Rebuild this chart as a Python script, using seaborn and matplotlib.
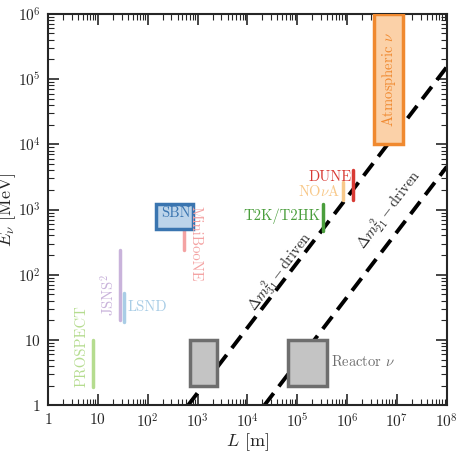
import numpy as np
import pandas as pd
import seaborn as sns
import matplotlib
matplotlib.use("Agg")
import matplotlib.pyplot as plt
from matplotlib.patches import Rectangle
from matplotlib.ticker import FuncFormatter, LogLocator

sns.set_style("ticks")
plt.rcParams['font.family'] = 'serif'
plt.rcParams['font.serif'] = ['cmr10', 'DejaVu Serif']
plt.rcParams['mathtext.fontset'] = 'cm'
plt.rcParams['axes.formatter.use_mathtext'] = True

box_names = ["SBN", "Accel", "Reactor", "Atmospheric"]
box_L = [(150, 800), (700, 2450), (6.4e4, 3.9e5), (3.5e6, 1.35e7)]
box_E = [(500, 1200), (2.0, 10), (2.0, 10), (1e4, 1e6)]
box_edge = ["#3a75b0", "#6e6e6e", "#6e6e6e", "#f0892f"]
box_face = ["#bcd4ea", "#c4c4c4", "#c4c4c4", "#fbd1a8"]

exp_names = ["MiniBooNE", "JSNS$^2$", "LSND", "PROSPECT", "T2K/T2HK", "NO$\\nu$A", "DUNE"]
exp_L = [540, 28, 33, 8, 3.3e5, 8.1e5, 1.3e6]
exp_Emin = [240, 20, 19, 1.9, 470, 1400, 1400]
exp_Emax = [1050, 240, 52, 10, 1200, 2600, 4000]
exp_col = ["#f4a3a3", "#c9b3db", "#a9cde6", "#b5dc8f", "#4a9e3c", "#f8c98a", "#d83a34"]

osc_LE = [650, 2.2e4]
L_grid = [1, 1e8]

fig = plt.figure(figsize=(4.65, 4.62), dpi=100)
ax = fig.add_axes([0.103, 0.123, 0.858, 0.847])

for c in osc_LE:
    df = pd.DataFrame({"L": L_grid, "E": [l / c for l in L_grid]})
    sns.lineplot(data=df, x="L", y="E", ax=ax, color="black", lw=2.8,
                 linestyle=(0, (4, 2.2)), estimator=None, sort=False)

for (l0, l1), (e0, e1), ec, fc in zip(box_L, box_E, box_edge, box_face):
    ax.add_patch(Rectangle((l0, e0), l1 - l0, e1 - e0, facecolor=fc,
                           edgecolor=ec, lw=2.5, zorder=3))

for L, e0, e1, c in zip(exp_L, exp_Emin, exp_Emax, exp_col):
    df = pd.DataFrame({"L": [L, L], "E": [e0, e1]})
    sns.lineplot(data=df, x="L", y="E", ax=ax, color=c, lw=2.5,
                 estimator=None, sort=False)

ax.set_xscale("log"); ax.set_yscale("log")
ax.set_xlim(1, 1e8); ax.set_ylim(1, 1e6)

fs = 10.5
ax.text(370, 880, "SBN", color="#3a75b0", fontsize=fs, ha="center", va="center", zorder=4)
ax.text(660, 1150, "MiniBooNE", color="#f4a3a3", fontsize=fs, rotation=-90, ha="left", va="top")
ax.text(24, 23, "JSNS$^2$", color="#c9b3db", fontsize=fs, rotation=90, ha="right", va="bottom")
ax.text(40, 32, "LSND", color="#a9cde6", fontsize=fs, ha="left", va="center")
ax.text(6.5, 1.9, "PROSPECT", color="#b5dc8f", fontsize=fs, rotation=90, ha="right", va="bottom")
ax.text(2.9e5, 800, "T2K/T2HK", color="#4a9e3c", fontsize=fs, ha="right", va="center")
ax.text(7.3e5, 1900, "NO$\\nu$A", color="#f8c98a", fontsize=fs, ha="right", va="center")
ax.text(1.25e6, 3100, "DUNE", color="#d83a34", fontsize=fs, ha="right", va="center")
ax.text(4.8e5, 4.6, "Reactor $\\nu$", color="#6e6e6e", fontsize=fs, ha="left", va="center")
ax.text(6.9e6, 1e5, "Atmospheric $\\nu$", color="#f0892f", fontsize=fs, rotation=90,
        ha="center", va="center", zorder=4)
ax.text(4.5e4, 110, "$\\Delta m^2_{31}-$driven", fontsize=fs, rotation=52.6, ha="center", va="center")
ax.text(7e6, 1000, "$\\Delta m^2_{21}-$driven", fontsize=fs, rotation=52.6, ha="center", va="center")

def fmt(v, pos):
    e = int(round(np.log10(v)))
    if e == 0: return "$1$"
    if e == 1: return "$10$"
    return "$10^{%d}$" % e
ax.xaxis.set_major_locator(LogLocator(base=10, numticks=20))
ax.yaxis.set_major_locator(LogLocator(base=10, numticks=20))
ax.xaxis.set_minor_locator(LogLocator(base=10, subs=np.arange(2, 10), numticks=20))
ax.yaxis.set_minor_locator(LogLocator(base=10, subs=np.arange(2, 10), numticks=20))
ax.xaxis.set_major_formatter(FuncFormatter(fmt))
ax.yaxis.set_major_formatter(FuncFormatter(fmt))
ax.tick_params(which="both", direction="in", top=True, right=True, labelsize=11, pad=5)
ax.tick_params(which="major", length=8, width=1.2)
ax.tick_params(which="minor", length=4, width=0.8)
for s in ax.spines.values():
    s.set_linewidth(1.5)
ax.set_xlabel("$L$ [m]", fontsize=13, labelpad=1)
ax.set_ylabel("$E_\\nu$ [MeV]", fontsize=13, labelpad=0)
fig.savefig("out.png", dpi=100)
